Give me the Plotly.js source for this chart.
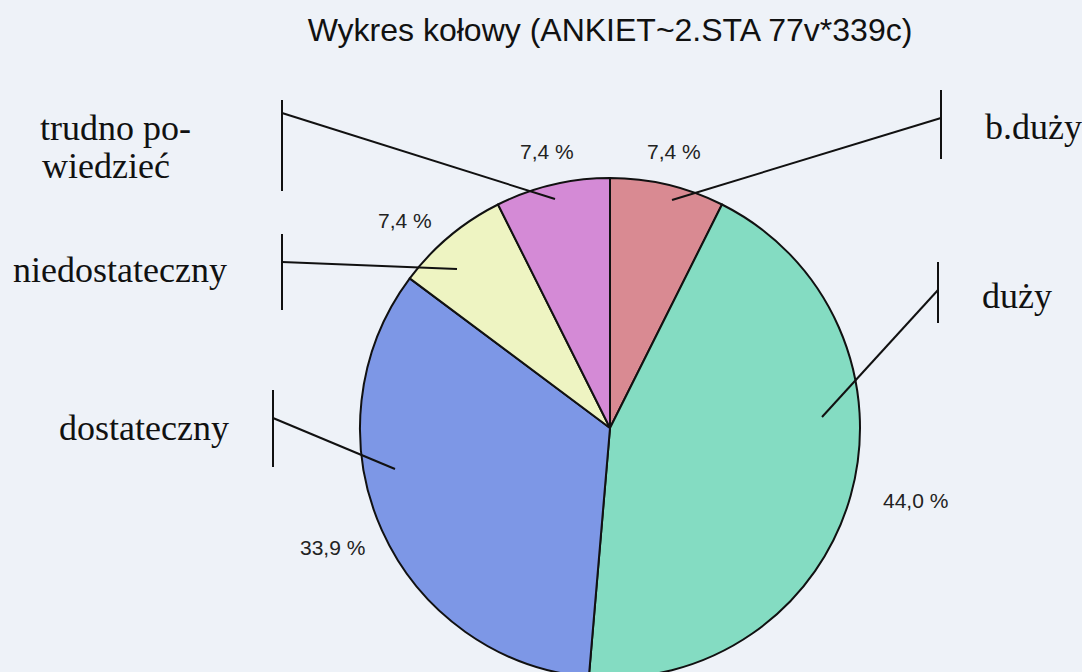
<!DOCTYPE html>
<html>
<head>
<meta charset="utf-8">
<script src="https://cdn.plot.ly/plotly-3.0.1.min.js"></script>
<style>
html, body { margin: 0; padding: 0; background: #eef2f8; overflow: hidden; }
#chart { width: 1082px; height: 680px; }
</style>
</head>
<body>
<div id="chart"></div>
<script>
// Data (clockwise from 12 o'clock)
const categories = ["b.duży", "duży", "dostateczny", "niedostateczny", "trudno powiedzieć"];
const values = [7.4, 44.0, 33.9, 7.4, 7.4];
const sliceColors = ["#d98a92", "#84dcc2", "#7d97e6", "#eef4c2", "#d48ad6"];
const titleText = "Wykres kołowy (ANKIET~2.STA 77v*339c)";

const W = 1082, H = 680;
const px = x => x / W;
const py = y => 1 - y / H;

const percentText = values.map(v => v.toFixed(1).replace('.', ',') + ' %');

const trace = {
  type: 'pie',
  values: values,
  labels: categories,
  text: percentText,
  textinfo: 'none',
  sort: false,
  direction: 'clockwise',
  rotation: 0,
  marker: { colors: sliceColors, line: { color: '#111', width: 2 } },
  domain: { x: [px(360), px(860)], y: [py(678), py(178)] },
  hoverinfo: 'label+text',
  showlegend: false
};

// Percent label positions (pixel centres), same order as values
const percentPos = [[674, 151], [915, 500], [332, 547], [405, 221], [547, 151]];

// Category label layout (bracket x, bracket y-range, leader start y, leader end point, label pos)
const labelSpecs = [
  { lines: ["b.duży"], tx: 983, ty: [127], bx: 941, by0: 90, by1: 159, ly: 118, ex: 672, ey: 200 },
  { lines: ["duży"], tx: 980, ty: [296], bx: 938, by0: 262, by1: 323, ly: 290, ex: 822, ey: 417 },
  { lines: ["dostateczny"], tx: 57, ty: [428], bx: 273, by0: 390, by1: 467, ly: 418, ex: 395, ey: 469 },
  { lines: ["niedostateczny"], tx: 11, ty: [270], bx: 282, by0: 234, by1: 310, ly: 262, ex: 457, ey: 269 },
  { lines: ["trudno po-", "wiedzieć"], tx: 38, ty: [128, 166], bx: 282, by0: 100, by1: 191, ly: 113, ex: 555, ey: 199 }
];

const shapes = [];
const annotations = [];
labelSpecs.forEach((s, i) => {
  shapes.push({ type: 'line', xref: 'paper', yref: 'paper', x0: px(s.bx), x1: px(s.bx), y0: py(s.by0), y1: py(s.by1), line: { color: '#111', width: 2 } });
  shapes.push({ type: 'line', xref: 'paper', yref: 'paper', x0: px(s.bx), x1: px(s.ex), y0: py(s.ly), y1: py(s.ey), line: { color: '#111', width: 2 } });
  s.lines.forEach((t, j) => {
    annotations.push({ text: t, xref: 'paper', yref: 'paper', x: px(s.tx + (j > 0 ? 2 : 0)), y: py(s.ty[j]), xanchor: 'left', yanchor: 'middle', showarrow: false, font: { family: 'Liberation Serif, Times New Roman, serif', size: 36, color: '#111' } });
  });
});
percentText.forEach((t, i) => {
  annotations.push({ text: t, xref: 'paper', yref: 'paper', x: px(percentPos[i][0]), y: py(percentPos[i][1]), xanchor: 'center', yanchor: 'middle', showarrow: false, font: { family: 'Liberation Sans, Arial, sans-serif', size: 21, color: '#222' } });
});

const layout = {
  width: W,
  height: H,
  margin: { l: 0, r: 0, t: 0, b: 0 },
  paper_bgcolor: '#eef2f8',
  plot_bgcolor: '#eef2f8',
  title: {
    text: titleText,
    font: { family: 'Liberation Sans, Arial, sans-serif', size: 32, color: '#111' },
    x: px(610), xanchor: 'center', xref: 'paper',
    y: py(30), yanchor: 'middle', yref: 'container'
  },
  shapes: shapes,
  annotations: annotations
};

Plotly.newPlot('chart', [trace], layout, { displayModeBar: false, staticPlot: true });
</script>
</body>
</html>
